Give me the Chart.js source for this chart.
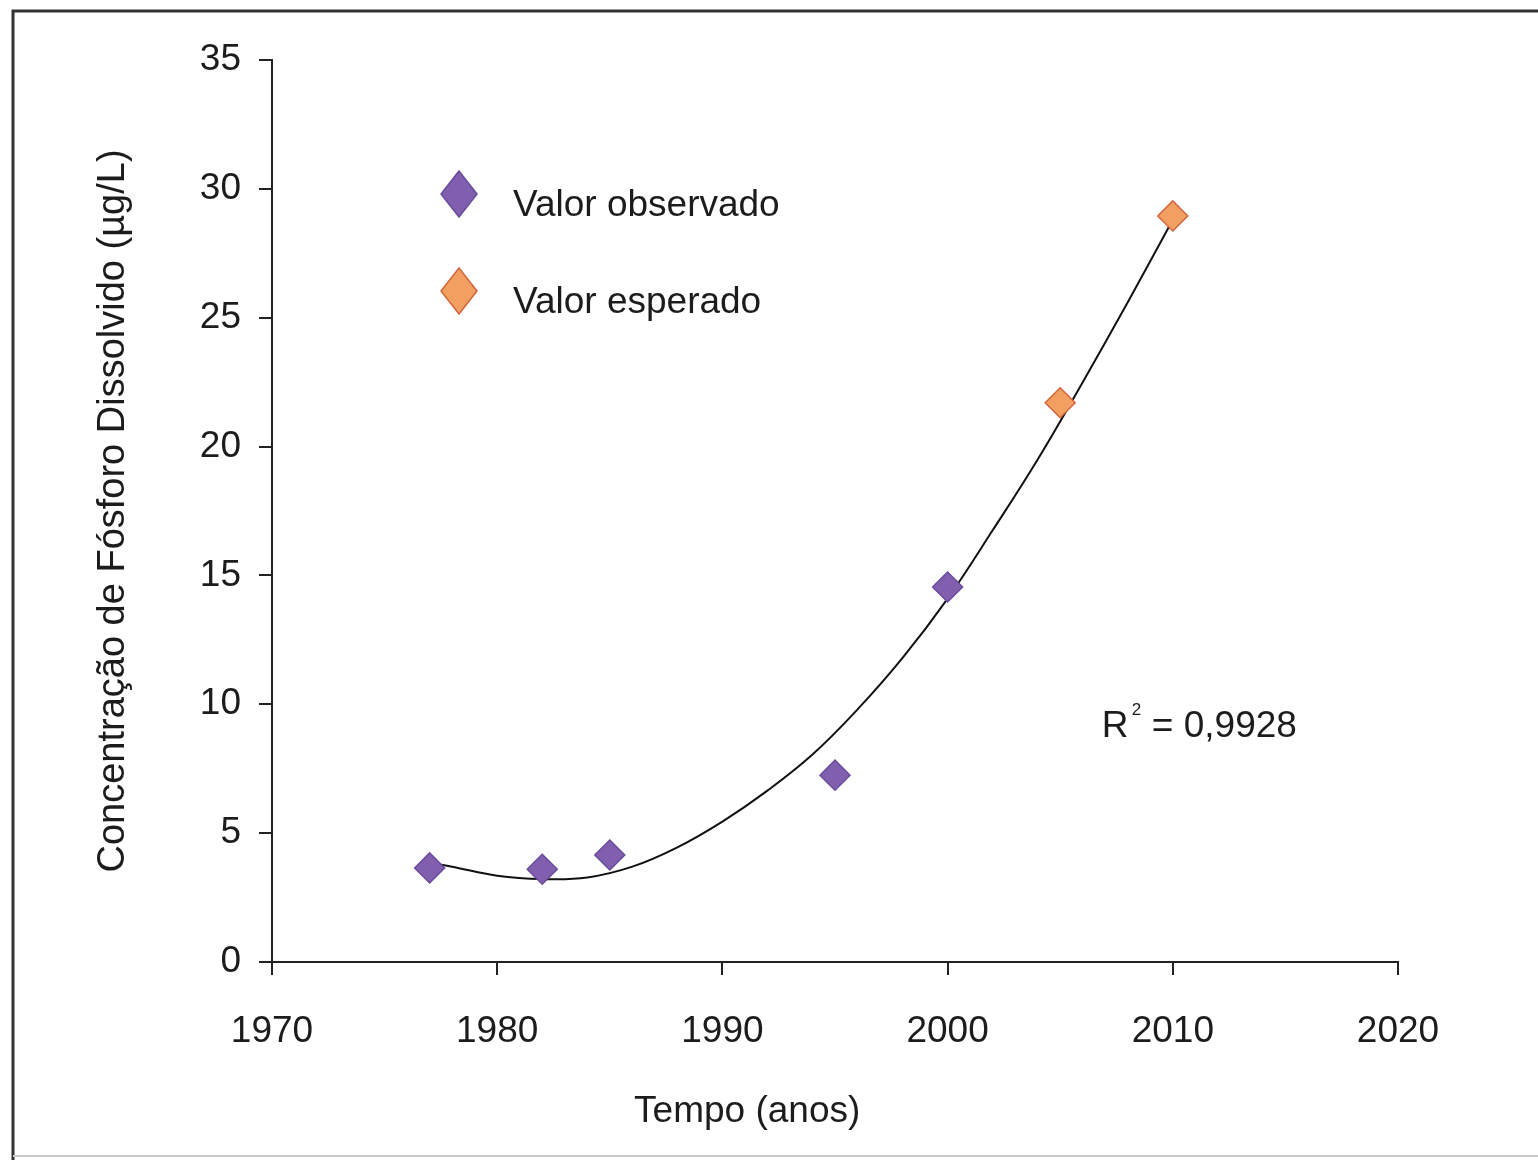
<!DOCTYPE html>
<html>
<head>
<meta charset="utf-8">
<title>Fósforo dissolvido</title>
<script src="https://cdn.jsdelivr.net/npm/chart.js@4.4.1/dist/chart.umd.min.js"></script>
<style>
  html, body { margin: 0; padding: 0; background: #fff; }
  canvas { display: block; }
</style>
</head>
<body>
<canvas id="fosforoChart" width="1538" height="1160"></canvas>
<script>
// Observed values (purple)
const observedYears = [1977, 1982, 1985, 1995, 2000];
const observedValues = [3.65, 3.6, 4.15, 7.25, 14.55];

// Expected values (orange)
const expectedYears = [2005, 2010];
const expectedValues = [21.7, 28.95];

// Trend curve
const trendYears = [1977, 1978, 1980, 1982, 1984, 1986, 1988, 1990, 1992, 1994, 1996, 1998, 2000, 2002, 2004, 2006, 2008, 2010];
const trendValues = [3.85, 3.7, 3.35, 3.22, 3.28, 3.7, 4.45, 5.45, 6.65, 8.05, 9.8, 11.8, 14.1, 16.75, 19.5, 22.5, 25.6, 28.8];

// Axis ticks
const xTicks = [1970, 1980, 1990, 2000, 2010, 2020];
const yTicks = [0, 5, 10, 15, 20, 25, 30, 35];

const FONT = "'Liberation Sans', Arial, sans-serif";
const TEXT = '#1c1c1c';
const AXIS = '#222';

const toPoints = (xs, ys) => xs.map((x, i) => ({ x: x, y: ys[i] }));

// Frame, legend, R² note and x title
const notesPlugin = {
    id: 'notes',
    beforeDraw(chart) {
        const ctx = chart.ctx;
        ctx.save();
        ctx.fillStyle = '#fff';
        ctx.fillRect(0, 0, chart.width, chart.height);
        ctx.strokeStyle = '#333';
        ctx.lineWidth = 3;
        ctx.beginPath();
        ctx.moveTo(chart.width + 5, 11);
        ctx.lineTo(13, 11);
        ctx.lineTo(13, chart.height + 5);
        ctx.stroke();
        ctx.strokeStyle = '#c8c8c8';
        ctx.lineWidth = 2;
        ctx.beginPath();
        ctx.moveTo(13, 1156);
        ctx.lineTo(chart.width, 1156);
        ctx.stroke();
        ctx.restore();
    },
    afterDraw(chart) {
        const ctx = chart.ctx;
        const area = chart.chartArea;
        const xs = chart.scales.x;
        const ys = chart.scales.y;
        ctx.save();

        // legend
        const legend = [
            { label: 'Valor observado', fill: '#7f5fae', stroke: '#6b4b9b', dy: 134 },
            { label: 'Valor esperado', fill: '#f2a062', stroke: '#d4643c', dy: 231 }
        ];
        legend.forEach(item => {
            const cx = area.left + 187;
            const cy = area.top + item.dy;
            ctx.beginPath();
            ctx.moveTo(cx, cy - 23);
            ctx.lineTo(cx + 18, cy);
            ctx.lineTo(cx, cy + 23);
            ctx.lineTo(cx - 18, cy);
            ctx.closePath();
            ctx.fillStyle = item.fill;
            ctx.fill();
            ctx.strokeStyle = item.stroke;
            ctx.lineWidth = 1.5;
            ctx.stroke();
            ctx.fillStyle = TEXT;
            ctx.font = '37px ' + FONT;
            ctx.textAlign = 'left';
            ctx.textBaseline = 'alphabetic';
            ctx.fillText(item.label, area.left + 241, cy + 22);
        });

        // R² = 0,9928
        const rx = xs.getPixelForValue(2006.85);
        const ry = ys.getPixelForValue(8.72);
        ctx.fillStyle = TEXT;
        ctx.font = '37px ' + FONT;
        ctx.fillText('R', rx, ry);
        ctx.font = '17px ' + FONT;
        ctx.fillText('2', rx + 30, ry - 22);
        ctx.font = '37px ' + FONT;
        ctx.fillText('= 0,9928', rx + 50, ry);

        // x axis title (sits left of the axis centre in the original)
        ctx.textAlign = 'center';
        ctx.fillText('Tempo (anos)', xs.getPixelForValue(1991.1), 1122);
        ctx.restore();
    }
};

new Chart(document.getElementById('fosforoChart'), {
    type: 'scatter',
    data: {
        datasets: [
            {
                label: 'Tendência',
                data: toPoints(trendYears, trendValues),
                showLine: true,
                borderColor: '#111',
                borderWidth: 2,
                pointRadius: 0,
                tension: 0.4,
                order: 2
            },
            {
                label: 'Valor observado',
                data: toPoints(observedYears, observedValues),
                pointStyle: 'rectRot',
                pointRadius: 15,
                backgroundColor: '#7f5fae',
                borderColor: '#6b4b9b',
                borderWidth: 1.5,
                order: 1
            },
            {
                label: 'Valor esperado',
                data: toPoints(expectedYears, expectedValues),
                pointStyle: 'rectRot',
                pointRadius: 15,
                backgroundColor: '#f2a062',
                borderColor: '#d4643c',
                borderWidth: 1.5,
                order: 1
            }
        ]
    },
    options: {
        responsive: false,
        animation: false,
        layout: { padding: { top: 60, right: 140, left: 0, bottom: 0 } },
        plugins: {
            legend: { display: false },
            tooltip: { enabled: false }
        },
        scales: {
            x: {
                type: 'linear',
                min: 1970,
                max: 2020,
                afterBuildTicks: scale => { scale.ticks = xTicks.map(v => ({ value: v })); },
                afterFit: scale => { scale.height = 198; },
                border: { display: true, color: AXIS, width: 2 },
                grid: { display: true, drawOnChartArea: false, drawTicks: true, tickLength: 13, color: AXIS, lineWidth: 2 },
                ticks: {
                    padding: 35,
                    color: TEXT,
                    font: { family: FONT, size: 37 },
                    callback: v => String(v)
                },
                title: { display: false }
            },
            y: {
                min: 0,
                max: 35,
                afterBuildTicks: scale => { scale.ticks = yTicks.map(v => ({ value: v })); },
                afterFit: scale => { scale.width = 272; },
                border: { display: true, color: AXIS, width: 2 },
                grid: { display: true, drawOnChartArea: false, drawTicks: true, tickLength: 13, color: AXIS, lineWidth: 2 },
                ticks: {
                    padding: 18,
                    color: TEXT,
                    font: { family: FONT, size: 37 },
                    callback: v => String(v)
                },
                title: {
                    display: true,
                    text: 'Concentração de Fósforo Dissolvido (µg/L)',
                    color: TEXT,
                    font: { family: FONT, size: 38 },
                    padding: { top: 91, bottom: 0 }
                }
            }
        }
    },
    plugins: [notesPlugin]
});
</script>
</body>
</html>
